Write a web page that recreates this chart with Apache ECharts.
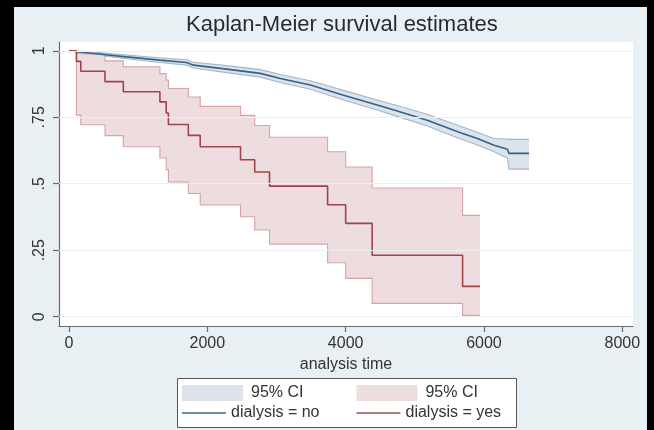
<!DOCTYPE html>
<html><head><meta charset="utf-8">
<script src="https://cdn.jsdelivr.net/npm/echarts@6/dist/echarts.min.js"></script>
<style>html,body{margin:0;padding:0;background:#e8f0f3;}#chart{width:654px;height:430px;}</style>
</head><body><div id="chart"></div>
<script>
const titleText = 'Kaplan-Meier survival estimates';
const xAxisTitle = 'analysis time';
const xTicks = [0, 2000, 4000, 6000, 8000];
const xTickLabels = ['0', '2000', '4000', '6000', '8000'];
const yTicks = [0, 0.25, 0.5, 0.75, 1];
const yTickLabels = ['0', '.25', '.5', '.75', '1'];
const legendCI = '95% CI';
const nameNo = 'dialysis = no';
const nameYes = 'dialysis = yes';

// dialysis = yes (step function)
const redTimes = [0, 107, 170, 520, 785, 1314, 1405, 1437, 1725, 1897, 2480, 2685, 2899, 3739, 4000, 4383, 5691, 5942];
const redSurv  = [1, 0.960, 0.923, 0.884, 0.846, 0.808, 0.766, 0.723, 0.682, 0.639, 0.590, 0.544, 0.491, 0.421, 0.351, 0.231, 0.114, 0.114];
const redUpper = [1, 0.990, 0.988, 0.962, 0.940, 0.914, 0.890, 0.858, 0.826, 0.791, 0.757, 0.719, 0.675, 0.620, 0.563, 0.484, 0.381, 0.381];
const redLower = [1, 0.758, 0.722, 0.681, 0.639, 0.597, 0.553, 0.507, 0.463, 0.420, 0.376, 0.326, 0.273, 0.203, 0.144, 0.050, 0.005, 0.005];

// dialysis = no (dense small steps, read as points)
const blueTimes = [0, 350, 830, 1314, 1700, 1800, 2280, 2765, 3055, 3490, 3970, 4455, 4700, 5180, 5660, 5905, 6145, 6340, 6362, 6652];
const blueSurv  = [1, 0.990, 0.977, 0.965, 0.956, 0.946, 0.931, 0.915, 0.896, 0.871, 0.833, 0.796, 0.777, 0.739, 0.692, 0.670, 0.645, 0.630, 0.614, 0.614];
const blueUpper = [1, 0.995, 0.984, 0.974, 0.966, 0.957, 0.944, 0.929, 0.911, 0.887, 0.851, 0.815, 0.797, 0.761, 0.716, 0.694, 0.670, 0.668, 0.667, 0.667];
const blueLower = [1, 0.985, 0.970, 0.956, 0.946, 0.935, 0.918, 0.901, 0.881, 0.855, 0.815, 0.777, 0.757, 0.717, 0.668, 0.646, 0.620, 0.596, 0.555, 0.555];

const FONT = '"Liberation Sans", Arial, sans-serif';
const BLUE = '#34628b', BLUE_FILL = '#dce3ea', BLUE_EDGE = '#a5b6c8';
const RED = '#a2434b', RED_FILL = '#eedddf', RED_EDGE = '#d6a3a8';
const AXIS = '#6b6b6b';

const pair = (ts, vs) => ts.map((t, i) => [t, vs[i]]);
const triple = (ts, lo, up) => ts.map((t, i) => [t, lo[i], up[i]]);
const lookup = (ticks, labels, v) => {
  for (let i = 0; i < ticks.length; i++) if (Math.abs(ticks[i] - v) < 1e-9) return labels[i];
  return '';
};

function bandRenderer(times, lo, up, stepped, fill, stroke) {
  return function (params, api) {
    if (params.dataIndex !== 0) return null;
    const upPts = [], loPts = [];
    for (let i = 0; i < times.length; i++) {
      upPts.push(api.coord([times[i], up[i]]));
      loPts.push(api.coord([times[i], lo[i]]));
      if (stepped && i < times.length - 1) {
        upPts.push(api.coord([times[i + 1], up[i]]));
        loPts.push(api.coord([times[i + 1], lo[i]]));
      }
    }
    const poly = upPts.concat(loPts.slice().reverse());
    return {
      type: 'group',
      children: [
        { type: 'polygon', shape: { points: poly }, style: { fill: fill, stroke: null } },
        { type: 'polyline', shape: { points: upPts }, style: { fill: null, stroke: stroke, lineWidth: 1.1 } },
        { type: 'polyline', shape: { points: loPts }, style: { fill: null, stroke: stroke, lineWidth: 1.1 } }
      ]
    };
  };
}

const chart = echarts.init(document.getElementById('chart'), null, { renderer: 'canvas' });
const option = {
  animation: false,
  backgroundColor: '#e8f0f3',
  title: {
    text: titleText, left: 186, top: 14, padding: 0,
    textStyle: { fontFamily: FONT, fontSize: 22, fontWeight: 'normal', color: '#1e2b3a' }
  },
  grid: { left: 59, right: 21, top: 42, bottom: 104, show: true, backgroundColor: '#ffffff', borderWidth: 0 },
  xAxis: {
    type: 'value', min: -145, max: 8155,
    name: xAxisTitle, nameLocation: 'middle', nameGap: 23,
    nameTextStyle: { fontFamily: FONT, fontSize: 16, color: '#333' },
    axisLine: { show: true, onZero: false, lineStyle: { color: AXIS, width: 1.2 } },
    axisTick: { show: true, length: 6, customValues: xTicks, lineStyle: { color: AXIS, width: 1.2 } },
    axisLabel: {
      customValues: xTicks, margin: 10, fontFamily: FONT, fontSize: 16, color: '#333',
      formatter: function (v) { return lookup(xTicks, xTickLabels, v); }
    },
    splitLine: { show: false }
  },
  yAxis: {
    type: 'value', min: -0.035, max: 1.033,
    axisLine: { show: true, onZero: false, lineStyle: { color: AXIS, width: 1.2 } },
    axisTick: { show: true, length: 6, customValues: yTicks, lineStyle: { color: AXIS, width: 1.2 } },
    axisLabel: {
      customValues: yTicks, rotate: 90, margin: 11, fontFamily: FONT, fontSize: 16, color: '#333',
      formatter: function (v) { return lookup(yTicks, yTickLabels, v); }
    },
    splitLine: { show: false }
  },
  legend: [
    {
      data: [
        { name: 'CI no', icon: 'rect', itemStyle: { color: BLUE_FILL, borderWidth: 0 } },
        { name: 'CI yes', icon: 'rect', itemStyle: { color: RED_FILL, borderWidth: 0 } }
      ],
      formatter: function () { return legendCI; },
      left: 182, top: 385, padding: 0, itemWidth: 61, itemHeight: 16, itemGap: 53,
      selectedMode: false,
      textStyle: { fontFamily: FONT, fontSize: 16, color: '#333', padding: [0, 0, 0, 3] }
    },
    {
      data: [
        { name: nameNo, icon: 'rect', itemStyle: { color: '#6f8fac', borderWidth: 0 } },
        { name: nameYes, icon: 'rect', itemStyle: { color: '#b9787e', borderWidth: 0 } }
      ],
      left: 182, top: 405, padding: 0, itemWidth: 44, itemHeight: 2, itemGap: 37,
      selectedMode: false,
      textStyle: { fontFamily: FONT, fontSize: 16, color: '#333' }
    }
  ],
  graphic: [
    { type: 'rect', left: 177, top: 378, shape: { width: 339, height: 49 }, style: { fill: '#ffffff', stroke: '#555', lineWidth: 1 }, z: -1, silent: true },
    { type: 'rect', left: 0, top: 0, shape: { width: 14, height: 430 }, style: { fill: '#000' }, silent: true },
    { type: 'rect', left: 0, top: 0, shape: { width: 654, height: 7 }, style: { fill: '#000' }, silent: true },
    { type: 'rect', left: 647, top: 0, shape: { width: 7, height: 430 }, style: { fill: '#000' }, silent: true }
  ],
  series: [
    {
      type: 'line', name: '_grid', data: [], z: 1, silent: true,
      markLine: {
        silent: true, symbol: 'none', label: { show: false },
        lineStyle: { color: '#e9f0f3', width: 1.2, type: 'solid' },
        data: yTicks.map(v => ({ yAxis: v }))
      }
    },
    {
      type: 'custom', name: 'CI no', z: 2, clip: true,
      itemStyle: { color: BLUE_FILL },
      encode: { x: 0, y: [1, 2] },
      data: triple(blueTimes, blueLower, blueUpper),
      renderItem: bandRenderer(blueTimes, blueLower, blueUpper, false, BLUE_FILL, BLUE_EDGE)
    },
    {
      type: 'custom', name: 'CI yes', z: 2, clip: true,
      itemStyle: { color: RED_FILL },
      encode: { x: 0, y: [1, 2] },
      data: triple(redTimes, redLower, redUpper),
      renderItem: bandRenderer(redTimes, redLower, redUpper, true, RED_FILL, RED_EDGE)
    },
    {
      type: 'line', name: nameNo, z: 3, symbol: 'none',
      data: pair(blueTimes, blueSurv),
      lineStyle: { color: BLUE, width: 1.6 }, itemStyle: { color: BLUE }
    },
    {
      type: 'line', name: nameYes, z: 3, symbol: 'none', step: 'end',
      data: pair(redTimes, redSurv),
      lineStyle: { color: RED, width: 1.6 }, itemStyle: { color: RED }
    }
  ]
};
chart.setOption(option);
</script>
</body></html>
